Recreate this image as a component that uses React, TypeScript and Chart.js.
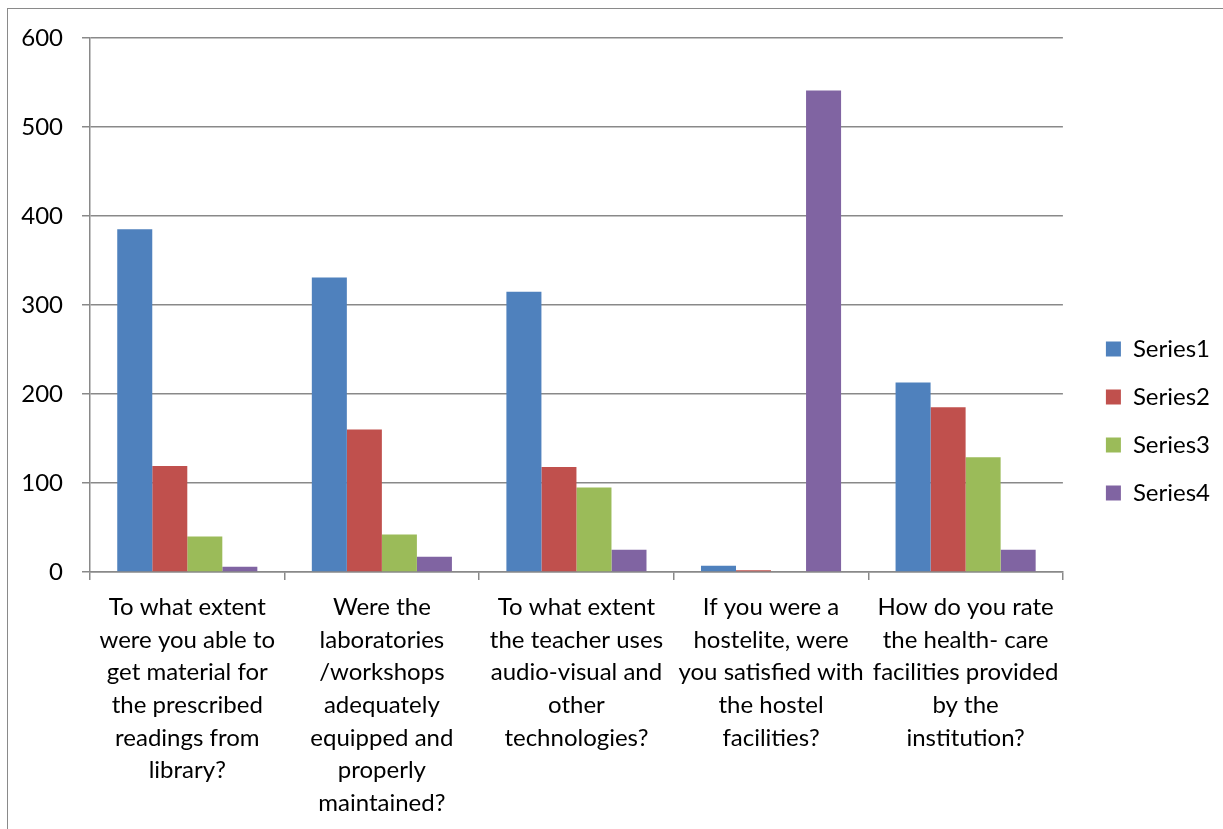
import React, { useEffect, useRef } from "react";
import { Chart, registerables } from "chart.js";

Chart.register(...registerables);

const categories: string[][] = [
  ["To what extent", "were you able to", "get material for", "the prescribed", "readings from", "library?"],
  ["Were the", "laboratories", "/workshops", "adequately", "equipped and", "properly", "maintained?"],
  ["To what extent", "the teacher uses", "audio-visual and", "other", "technologies?"],
  ["If you were a", "hostelite, were", "you satisfied with", "the hostel", "facilities?"],
  ["How do you rate", "the health- care", "facilities provided", "by the", "institution?"],
];

const series1: number[] = [385, 331, 315, 7, 213];
const series2: number[] = [119, 160, 118, 2, 185];
const series3: number[] = [40, 42, 95, 0, 129];
const series4: number[] = [6, 17, 25, 541, 25];

const seriesNames: string[] = ["Series1", "Series2", "Series3", "Series4"];
const seriesColors: string[] = ["#4F81BD", "#C0504D", "#9BBB59", "#8064A2"];
const yTicks: number[] = [0, 100, 200, 300, 400, 500, 600];

const FONT = "Lato, 'Noto Sans', sans-serif";
const GRID = "#898989";
const PAD_TOP = 38;
const PAD_BOTTOM = 12;

export default function App() {
  const ref = useRef<HTMLCanvasElement | null>(null);

  useEffect(() => {
    if (!ref.current) return;
    const values = [series1, series2, series3, series4];
    const chart = new Chart(ref.current, {
      type: "bar",
      data: {
        labels: categories,
        datasets: values.map((v, i) => ({
          label: seriesNames[i],
          data: v,
          backgroundColor: seriesColors[i],
          borderWidth: 0,
          categoryPercentage: 0.72,
          barPercentage: 1,
        })),
      },
      options: {
        responsive: false,
        animation: false,
        devicePixelRatio: 1,
        layout: { padding: { top: PAD_TOP, left: 0, right: 3, bottom: PAD_BOTTOM } },
        plugins: {
          tooltip: { enabled: false },
          legend: {
            position: "right",
            align: "start",
            title: {
              display: true,
              text: "",
              font: { family: FONT, size: 10, lineHeight: 1 },
              padding: { top: 265, bottom: 0 },
            },
            labels: {
              boxWidth: 15,
              boxHeight: 15,
              padding: 24,
              color: "#000",
              font: { family: FONT, size: 24 },
            },
          },
        },
        scales: {
          x: {
            afterFit: (s: any) => {
              s.height = 829 - PAD_BOTTOM - 572;
            },
            grid: {
              display: true,
              drawOnChartArea: false,
              offset: true,
              tickLength: 8,
              color: GRID,
              lineWidth: 1.5,
            },
            border: { display: true, color: GRID, width: 1.5 },
            ticks: {
              color: "#000",
              padding: 11,
              maxRotation: 0,
              autoSkip: false,
              font: { family: FONT, size: 24, lineHeight: 1.36 },
            },
          },
          y: {
            min: 0,
            max: 600,
            afterFit: (s: any) => {
              s.width = 90;
            },
            afterBuildTicks: (s: any) => {
              s.ticks = yTicks.map((v) => ({ value: v }));
            },
            grid: {
              color: GRID,
              lineWidth: 1.5,
              tickLength: 8,
            },
            border: { display: true, color: GRID, width: 1.5 },
            ticks: {
              color: "#000",
              padding: 19,
              font: { family: FONT, size: 24 },
            },
          },
          y2: {
            position: "right",
            min: 0,
            max: 600,
            afterFit: (s: any) => {
              s.width = 19;
            },
            grid: { display: false },
            border: { display: false },
            ticks: { display: false },
          },
        },
      },
    } as any);
    return () => chart.destroy();
  }, []);

  return (
    <div style={{ position: "fixed", left: 0, top: 0, width: 1223, height: 829, background: "#fff", overflow: "hidden" }}>
      <div
        style={{
          position: "absolute",
          left: 7,
          top: 8,
          width: 1400,
          height: 1000,
          borderTop: "1.5px solid #8a8a8a",
          borderLeft: "1.5px solid #8a8a8a",
          boxSizing: "border-box",
        }}
      />
      <canvas ref={ref} width={1223} height={829} style={{ position: "absolute", left: 0, top: 0, width: 1223, height: 829 }} />
    </div>
  );
}
